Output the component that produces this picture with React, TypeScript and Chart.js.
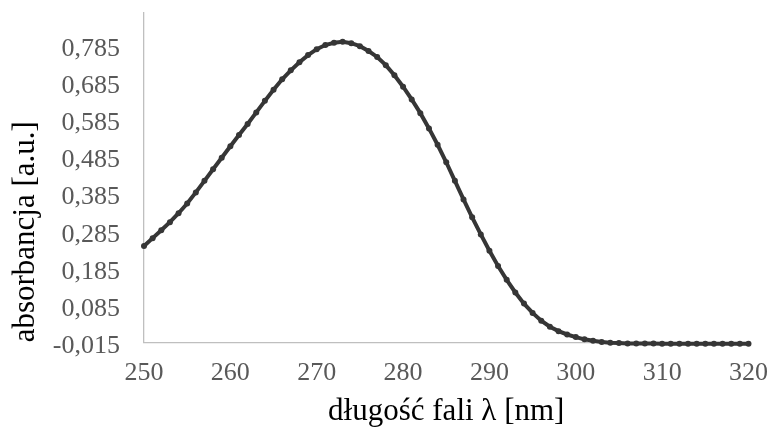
import React, { useEffect, useRef } from "react";
import { Chart, registerables } from "chart.js";

Chart.register(...registerables);

const wavelengths = [
  250, 251, 252, 253, 254, 255, 256, 257, 258, 259,
  260, 261, 262, 263, 264, 265, 266, 267, 268, 269,
  270, 271, 272, 273, 274, 275, 276, 277, 278, 279,
  280, 281, 282, 283, 284, 285, 286, 287, 288, 289,
  290, 291, 292, 293, 294, 295, 296, 297, 298, 299,
  300, 301, 302, 303, 304, 305, 306, 307, 308, 309,
  310, 311, 312, 313, 314, 315, 316, 317, 318, 319,
  320,
];

const absorbance = [
  0.244, 0.265, 0.286, 0.308, 0.332, 0.358, 0.388, 0.419, 0.45, 0.481,
  0.512, 0.542, 0.572, 0.603, 0.634, 0.664, 0.692, 0.716, 0.738, 0.757,
  0.773, 0.784, 0.79, 0.793, 0.789, 0.781, 0.768, 0.752, 0.73, 0.703,
  0.672, 0.638, 0.601, 0.56, 0.516, 0.469, 0.419, 0.369, 0.321, 0.275,
  0.231, 0.19, 0.153, 0.119, 0.089, 0.064, 0.043, 0.027, 0.015, 0.006,
  -0.001, -0.007, -0.011, -0.014, -0.016, -0.017, -0.018, -0.018, -0.018, -0.018,
  -0.019, -0.019, -0.019, -0.019, -0.019, -0.019, -0.019, -0.019, -0.019, -0.019,
  -0.019,
];

const yTickValues = [-0.015, 0.085, 0.185, 0.285, 0.385, 0.485, 0.585, 0.685, 0.785];
const xTickValues = [250, 260, 270, 280, 290, 300, 310, 320];

const xTitle = "długość fali λ [nm]";
const yTitle = "absorbancja [a.u.]";

export default function App() {
  const canvasRef = useRef<HTMLCanvasElement | null>(null);

  useEffect(() => {
    document.body.style.margin = "0";
    const canvas = canvasRef.current;
    if (!canvas) return;
    const points = wavelengths.map((x, i) => ({ x, y: absorbance[i] }));
    const chart = new Chart(canvas, {
      type: "line",
      data: {
        datasets: [
          {
            data: points,
            borderColor: "#363636",
            backgroundColor: "#363636",
            borderWidth: 4,
            pointRadius: 3,
            pointBorderWidth: 0,
            pointBackgroundColor: "#363636",
            tension: 0,
            clip: false,
          },
        ],
      },
      options: {
        animation: false,
        responsive: true,
        maintainAspectRatio: false,
        layout: { padding: { top: 12.7, right: 22.5, left: 0, bottom: 0 } },
        plugins: { legend: { display: false }, tooltip: { enabled: false } },
        scales: {
          x: {
            type: "linear",
            min: 250,
            max: 320,
            afterBuildTicks: (scale: any) => {
              scale.ticks = xTickValues.map((v) => ({ value: v }));
            },
            afterFit: (scale: any) => {
              scale.height = 89.7;
              scale.paddingLeft = 0;
              scale.paddingRight = 0;
            },
            grid: { display: false, drawTicks: false },
            border: { display: true, color: "#bfbfbf", width: 1.3 },
            ticks: {
              padding: 15,
              color: "#595959",
              font: { family: "Liberation Serif", size: 26 },
              maxRotation: 0,
            },
            title: {
              display: true,
              text: xTitle,
              color: "#000000",
              font: { family: "Liberation Serif", size: 31 },
              padding: { top: 0, bottom: 1.5 },
            },
          },
          y: {
            type: "linear",
            min: -0.015,
            max: 0.871,
            afterBuildTicks: (scale: any) => {
              scale.ticks = yTickValues.map((v) => ({ value: v }));
            },
            afterFit: (scale: any) => {
              scale.width = 144;
              scale.paddingTop = 0;
              scale.paddingBottom = 0;
            },
            grid: { display: false, drawTicks: false },
            border: { display: true, color: "#bfbfbf", width: 1.3 },
            ticks: {
              padding: 24,
              labelOffset: 4,
              color: "#595959",
              font: { family: "Liberation Serif", size: 26 },
              callback: (v: any) => Number(v).toFixed(3).replace(".", ","),
            },
            title: {
              display: true,
              text: yTitle,
              align: "start",
              color: "#000000",
              font: { family: "Liberation Serif", size: 31 },
              padding: { top: 7, bottom: 0 },
            },
          },
        },
      },
    });
    return () => chart.destroy();
  }, []);

  return (
    <div style={{ width: 771, height: 432, position: "relative", background: "#ffffff" }}>
      <canvas ref={canvasRef} />
    </div>
  );
}
